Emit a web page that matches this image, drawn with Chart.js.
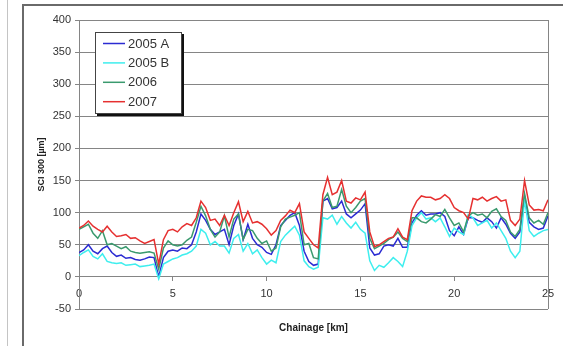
<!DOCTYPE html>
<html>
<head>
<meta charset="utf-8">
<title>SCI 300 by chainage</title>
<script src="https://cdn.jsdelivr.net/npm/chart.js@4/dist/chart.umd.min.js"></script>
<style>
  html, body { margin: 0; padding: 0; background: #fff; }
  #wrap { position: relative; width: 563px; height: 346px; overflow: hidden; }
  #edge { position: absolute; left: 7px; top: 0; width: 1px; height: 346px; background: #c4c4c4; }
  #frame { position: absolute; left: 22px; top: 4px; width: 560px; height: 360px;
           border-left: 2px solid #6a6a6a; border-top: 2px solid #6a6a6a; }
  #chart { position: absolute; left: 0; top: 0; }
</style>
</head>
<body>
<div id="wrap">
  <div id="edge"></div>
  <div id="frame"></div>
  <canvas id="chart" width="563" height="346"></canvas>
</div>
<script>
// Chainage stations along the road (km)
const chainageKm = [
  0, 0.25, 0.5, 0.75, 1, 1.25, 1.5, 1.75, 2, 2.25, 2.5, 2.75, 3, 3.25, 3.5, 3.75,
  4, 4.25, 4.5, 4.75, 5, 5.25, 5.5, 5.75, 6, 6.25, 6.5, 6.75, 7, 7.25, 7.5, 7.75,
  8, 8.25, 8.5, 8.75, 9, 9.25, 9.5, 9.75, 10, 10.25, 10.5, 10.75, 11, 11.25, 11.5, 11.75,
  12, 12.25, 12.5, 12.75, 13, 13.25, 13.5, 13.75, 14, 14.25, 14.5, 14.75, 15, 15.25, 15.5, 15.75,
  16, 16.25, 16.5, 16.75, 17, 17.25, 17.5, 17.75, 18, 18.25, 18.5, 18.75, 19, 19.25, 19.5, 19.75,
  20, 20.25, 20.5, 20.75, 21, 21.25, 21.5, 21.75, 22, 22.25, 22.5, 22.75, 23, 23.25, 23.5, 23.75,
  24, 24.25, 24.5, 24.75, 25
];

// SCI 300 (µm) per survey
const sci2005A = [
  38, 42, 50, 40, 36, 44, 48, 38, 32, 34, 29, 30, 27, 26, 28, 31, 30,
  0, 30, 40, 42, 40, 45, 44, 50, 70, 98, 88, 74, 66, 70, 74, 50,
  80, 98, 58, 82, 60, 50, 46, 38, 35, 50, 80, 88, 96, 100, 80, 40,
  24, 18, 20, 118, 122, 106, 108, 118, 98, 92, 98, 104, 114, 45, 34, 36,
  48, 50, 48, 60, 46, 46, 84, 96, 103, 96, 98, 98, 100, 94, 72, 64,
  78, 66, 92, 92, 88, 85, 92, 86, 76, 92, 82, 68, 60, 70, 125, 85,
  78, 74, 76, 95
];
const sci2005B = [
  33, 38, 42, 32, 28, 36, 24, 22, 21, 22, 18, 19, 20, 16, 17, 18, 20,
  -3, 20, 24, 28, 30, 34, 36, 40, 48, 74, 68, 50, 55, 48, 48, 37,
  60, 66, 40, 52, 36, 42, 30, 20, 26, 22, 55, 65, 72, 79, 65, 25,
  16, 12, 15, 92, 90, 96, 82, 94, 84, 76, 85, 74, 68, 25, 10, 18,
  15, 22, 30, 24, 16, 40, 80, 92, 100, 90, 92, 86, 92, 78, 63, 76,
  70, 66, 97, 92, 80, 84, 88, 76, 84, 72, 60, 40, 30, 40, 120, 72,
  63, 68, 72, 74
];
const sci2006 = [
  74, 78, 82, 68, 60, 72, 50, 52, 48, 44, 47, 40, 38, 37, 38, 39, 37,
  12, 45, 56, 50, 48, 50, 57, 62, 85, 110, 95, 74, 62, 70, 95, 62,
  90, 98, 58, 74, 72, 60, 52, 56, 40, 45, 78, 90, 93, 96, 100, 50,
  52, 30, 28, 118, 130, 108, 110, 136, 110, 100, 108, 118, 122, 60, 44, 48,
  52, 58, 62, 70, 60, 55, 92, 92, 86, 84, 90, 97, 94, 105, 92, 80,
  84, 70, 95, 100, 96, 98, 92, 102, 106, 94, 88, 70, 63, 74, 130, 92,
  84, 88, 82, 100
];
const sci2007 = [
  76, 80, 87, 79, 74, 70, 79, 70, 63, 64, 66, 60, 61, 56, 52, 55, 58,
  20, 58, 72, 74, 70, 78, 83, 80, 92, 118, 108, 88, 90, 80, 96, 80,
  100, 117, 86, 102, 84, 86, 82, 75, 65, 72, 88, 95, 104, 100, 114, 70,
  60, 50, 45, 128, 155, 128, 132, 150, 118, 115, 123, 120, 132, 70, 47, 50,
  55, 60, 62, 75, 62, 58, 103, 118, 126, 124, 124, 120, 122, 128, 122, 108,
  103, 100, 90, 122, 120, 124, 118, 122, 125, 118, 120, 88, 80, 90, 150, 112,
  104, 105, 103, 120
];

const seriesNames = ['2005 A', '2005 B', '2006', '2007'];
const seriesValues = [sci2005A, sci2005B, sci2006, sci2007];
const seriesColors = ['#2b2bd2', '#3eeeee', '#3a9a6e', '#e63030'];
// later surveys are painted over earlier ones
const drawOrder = [3, 2, 1, 0];

const xTicks = [0, 5, 10, 15, 20, 25];
const yTicks = [-50, 0, 50, 100, 150, 200, 250, 300, 350, 400];

const gridGrey = '#858585';
const tickFont = { family: 'Arial, "Liberation Sans", sans-serif', size: 11 };

const datasets = seriesNames.map((name, i) => ({
  label: name,
  data: chainageKm.map((km, j) => ({ x: km, y: seriesValues[i][j] })),
  borderColor: seriesColors[i],
  backgroundColor: seriesColors[i],
  borderWidth: 1.5,
  pointRadius: 0,
  tension: 0,
  fill: false,
  order: drawOrder[i]
}));

// Outline of the plotting area (right edge closes the box)
const plotFrame = {
  id: 'plotFrame',
  beforeDatasetsDraw(chart) {
    const a = chart.chartArea;
    const ctx = chart.ctx;
    ctx.save();
    ctx.strokeStyle = gridGrey;
    ctx.lineWidth = 1;
    ctx.beginPath();
    ctx.moveTo(Math.round(a.right) + 0.5, a.top);
    ctx.lineTo(Math.round(a.right) + 0.5, a.bottom);
    ctx.stroke();
    ctx.restore();
  }
};

// Boxed key with a drop shadow, sitting inside the plot
const boxedKey = {
  id: 'boxedKey',
  afterDraw(chart) {
    const ctx = chart.ctx;
    const bx = 95, by = 32, bw = 87, bh = 82;
    ctx.save();
    ctx.fillStyle = '#111';
    ctx.fillRect(bx + 2, by + 2, bw, bh);
    ctx.fillStyle = '#fff';
    ctx.fillRect(bx, by, bw, bh);
    ctx.strokeStyle = '#444';
    ctx.lineWidth = 1;
    ctx.strokeRect(bx + 0.5, by + 0.5, bw - 1, bh - 1);
    ctx.font = '13px Arial, "Liberation Sans", sans-serif';
    ctx.textBaseline = 'middle';
    ctx.textAlign = 'left';
    seriesNames.forEach((name, i) => {
      const ry = by + 11.5 + i * 19.4;
      ctx.strokeStyle = seriesColors[i];
      ctx.lineWidth = 1.5;
      ctx.beginPath();
      ctx.moveTo(bx + 8, ry);
      ctx.lineTo(bx + 30, ry);
      ctx.stroke();
      ctx.fillStyle = '#333';
      ctx.fillText(name, bx + 33, ry + 0.5);
    });
    ctx.restore();
  }
};

new Chart(document.getElementById('chart'), {
  type: 'line',
  data: { datasets },
  plugins: [plotFrame, boxedKey],
  options: {
    responsive: false,
    animation: false,
    devicePixelRatio: 1,
    layout: { padding: { left: 0, right: 15, top: 20, bottom: 12 } },
    plugins: { legend: { display: false }, tooltip: { enabled: false } },
    scales: {
      x: {
        type: 'linear',
        min: 0,
        max: 25,
        position: { y: 0 },
        afterBuildTicks: s => { s.ticks = xTicks.map(v => ({ value: v })); },
        ticks: { font: tickFont, color: '#333', padding: 6, maxRotation: 0 },
        grid: { drawOnChartArea: false, drawTicks: true, tickLength: 4, color: gridGrey },
        border: { color: gridGrey, width: 1 }
      },
      xTitle: {
        type: 'linear',
        axis: 'x',
        position: 'bottom',
        min: 0,
        max: 25,
        grid: { display: false, drawTicks: false },
        border: { display: false },
        ticks: { display: false },
        title: {
          display: true,
          text: 'Chainage [km]',
          color: '#222',
          font: { family: 'Arial, "Liberation Sans", sans-serif', size: 10, weight: 'bold' },
          padding: { top: 13, bottom: 0 }
        }
      },
      y: {
        type: 'linear',
        min: -50,
        max: 400,
        afterBuildTicks: s => { s.ticks = yTicks.map(v => ({ value: v })); },
        afterFit: s => { s.width = 79; },
        ticks: { font: tickFont, color: '#333', padding: 4 },
        grid: { color: gridGrey, lineWidth: 1, tickLength: 4 },
        border: { color: gridGrey, width: 1 },
        title: {
          display: true,
          text: 'SCI 300 [µm]',
          color: '#222',
          font: { family: 'Arial, "Liberation Sans", sans-serif', size: 9, weight: 'bold' },
          padding: { top: 36, bottom: 0 }
        }
      }
    }
  }
});
</script>
</body>
</html>
